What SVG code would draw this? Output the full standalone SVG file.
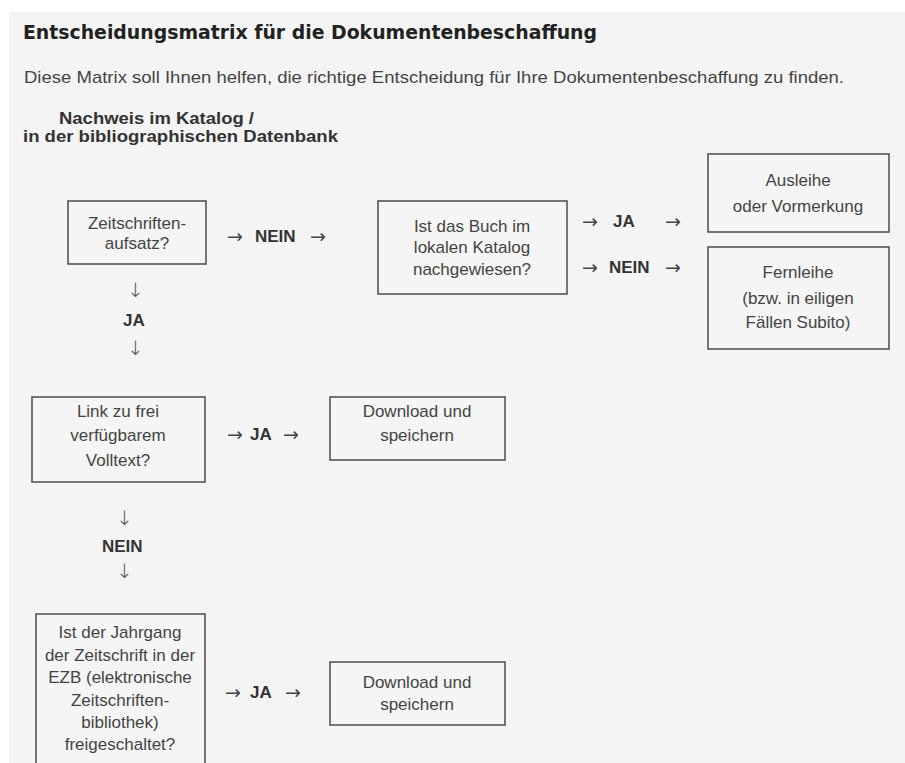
<svg xmlns="http://www.w3.org/2000/svg" width="905" height="763" viewBox="0 0 905 763">
<style>
.bg{fill:#f4f4f4}
.box{fill:#f5f5f5;stroke:#555;stroke-width:1.6}
.t{font-family:"Liberation Sans",Arial,sans-serif;font-size:17px;fill:#444;text-anchor:middle}
.lb{font-family:"Liberation Sans",Arial,sans-serif;font-size:17px;fill:#333;font-weight:bold}
.ar{font-family:"DejaVu Sans",sans-serif;font-size:19px;fill:#444}
.dn{font-family:"DejaVu Sans",sans-serif;font-size:20px;fill:#555;font-weight:200}
.h{font-family:"DejaVu Sans",sans-serif;font-weight:bold;font-size:19px;fill:#222}
.s{font-family:"Liberation Sans",Arial,sans-serif;font-size:17px;fill:#444}
.hb{font-family:"Liberation Sans",Arial,sans-serif;font-weight:bold;font-size:17px;fill:#333}
</style>
<rect x="0" y="0" width="905" height="763" fill="#fff"/>
<rect class="bg" x="9" y="12" width="896" height="751"/>
<g id="header">
<text class="h" x="23" y="39" textLength="574" lengthAdjust="spacingAndGlyphs">Entscheidungsmatrix für die Dokumentenbeschaffung</text>
<text class="s" x="24" y="83" textLength="820" lengthAdjust="spacingAndGlyphs">Diese Matrix soll Ihnen helfen, die richtige Entscheidung für Ihre Dokumentenbeschaffung zu finden.</text>
<text class="hb" x="59" y="124" textLength="195" lengthAdjust="spacingAndGlyphs">Nachweis im Katalog /</text>
<text class="hb" x="23" y="142" textLength="315" lengthAdjust="spacingAndGlyphs">in der bibliographischen Datenbank</text>
</g>
<g id="n-zeitschrift">
<rect class="box" x="68" y="201" width="138" height="63"/>
<text class="t" x="137" y="229">Zeitschriften-</text>
<text class="t" x="137" y="249">aufsatz?</text>
</g>
<g id="n-buch">
<rect class="box" x="378" y="201" width="189" height="93"/>
<text class="t" x="472" y="232">Ist das Buch im</text>
<text class="t" x="472" y="253">lokalen Katalog</text>
<text class="t" x="472" y="275">nachgewiesen?</text>
</g>
<g id="n-ausleihe">
<rect class="box" x="708" y="154" width="181" height="78"/>
<text class="t" x="798" y="186">Ausleihe</text>
<text class="t" x="798" y="212">oder Vormerkung</text>
</g>
<g id="n-fernleihe">
<rect class="box" x="708" y="247" width="181" height="102"/>
<text class="t" x="798" y="278">Fernleihe</text>
<text class="t" x="798" y="304">(bzw. in eiligen</text>
<text class="t" x="798" y="328">Fällen Subito)</text>
</g>
<g id="n-link">
<rect class="box" x="32" y="397" width="173" height="85"/>
<text class="t" x="118" y="417">Link zu frei</text>
<text class="t" x="118" y="441">verfügbarem</text>
<text class="t" x="118" y="466">Volltext?</text>
</g>
<g id="n-download1">
<rect class="box" x="330" y="397" width="175" height="63"/>
<text class="t" x="417" y="417">Download und</text>
<text class="t" x="417" y="441">speichern</text>
</g>
<g id="n-ezb">
<rect class="box" x="36" y="614" width="169" height="160"/>
<text class="t" x="120" y="638">Ist der Jahrgang</text>
<text class="t" x="120" y="661">der Zeitschrift in der</text>
<text class="t" x="120" y="683">EZB (elektronische</text>
<text class="t" x="120" y="706">Zeitschriften-</text>
<text class="t" x="120" y="728">bibliothek)</text>
<text class="t" x="120" y="750">freigeschaltet?</text>
</g>
<g id="n-download2">
<rect class="box" x="330" y="662" width="175" height="63"/>
<text class="t" x="417" y="688">Download und</text>
<text class="t" x="417" y="710">speichern</text>
</g>
<g id="connectors">
<text class="ar" x="227" y="243">→</text>
<text class="lb" x="255" y="242">NEIN</text>
<text class="ar" x="310" y="243">→</text>
<text class="dn" x="127" y="297">↓</text>
<text class="lb" x="123" y="326">JA</text>
<text class="dn" x="127" y="355">↓</text>
<text class="ar" x="582" y="228">→</text>
<text class="lb" x="613" y="227">JA</text>
<text class="ar" x="665" y="228">→</text>
<text class="ar" x="582" y="274">→</text>
<text class="lb" x="609" y="273">NEIN</text>
<text class="ar" x="665" y="274">→</text>
<text class="ar" x="227" y="441">→</text>
<text class="lb" x="250" y="440">JA</text>
<text class="ar" x="283" y="441">→</text>
<text class="dn" x="116" y="525">↓</text>
<text class="lb" x="102" y="552">NEIN</text>
<text class="dn" x="116" y="578">↓</text>
<text class="ar" x="225" y="699">→</text>
<text class="lb" x="250" y="698">JA</text>
<text class="ar" x="285" y="699">→</text>
</g>
</svg>
